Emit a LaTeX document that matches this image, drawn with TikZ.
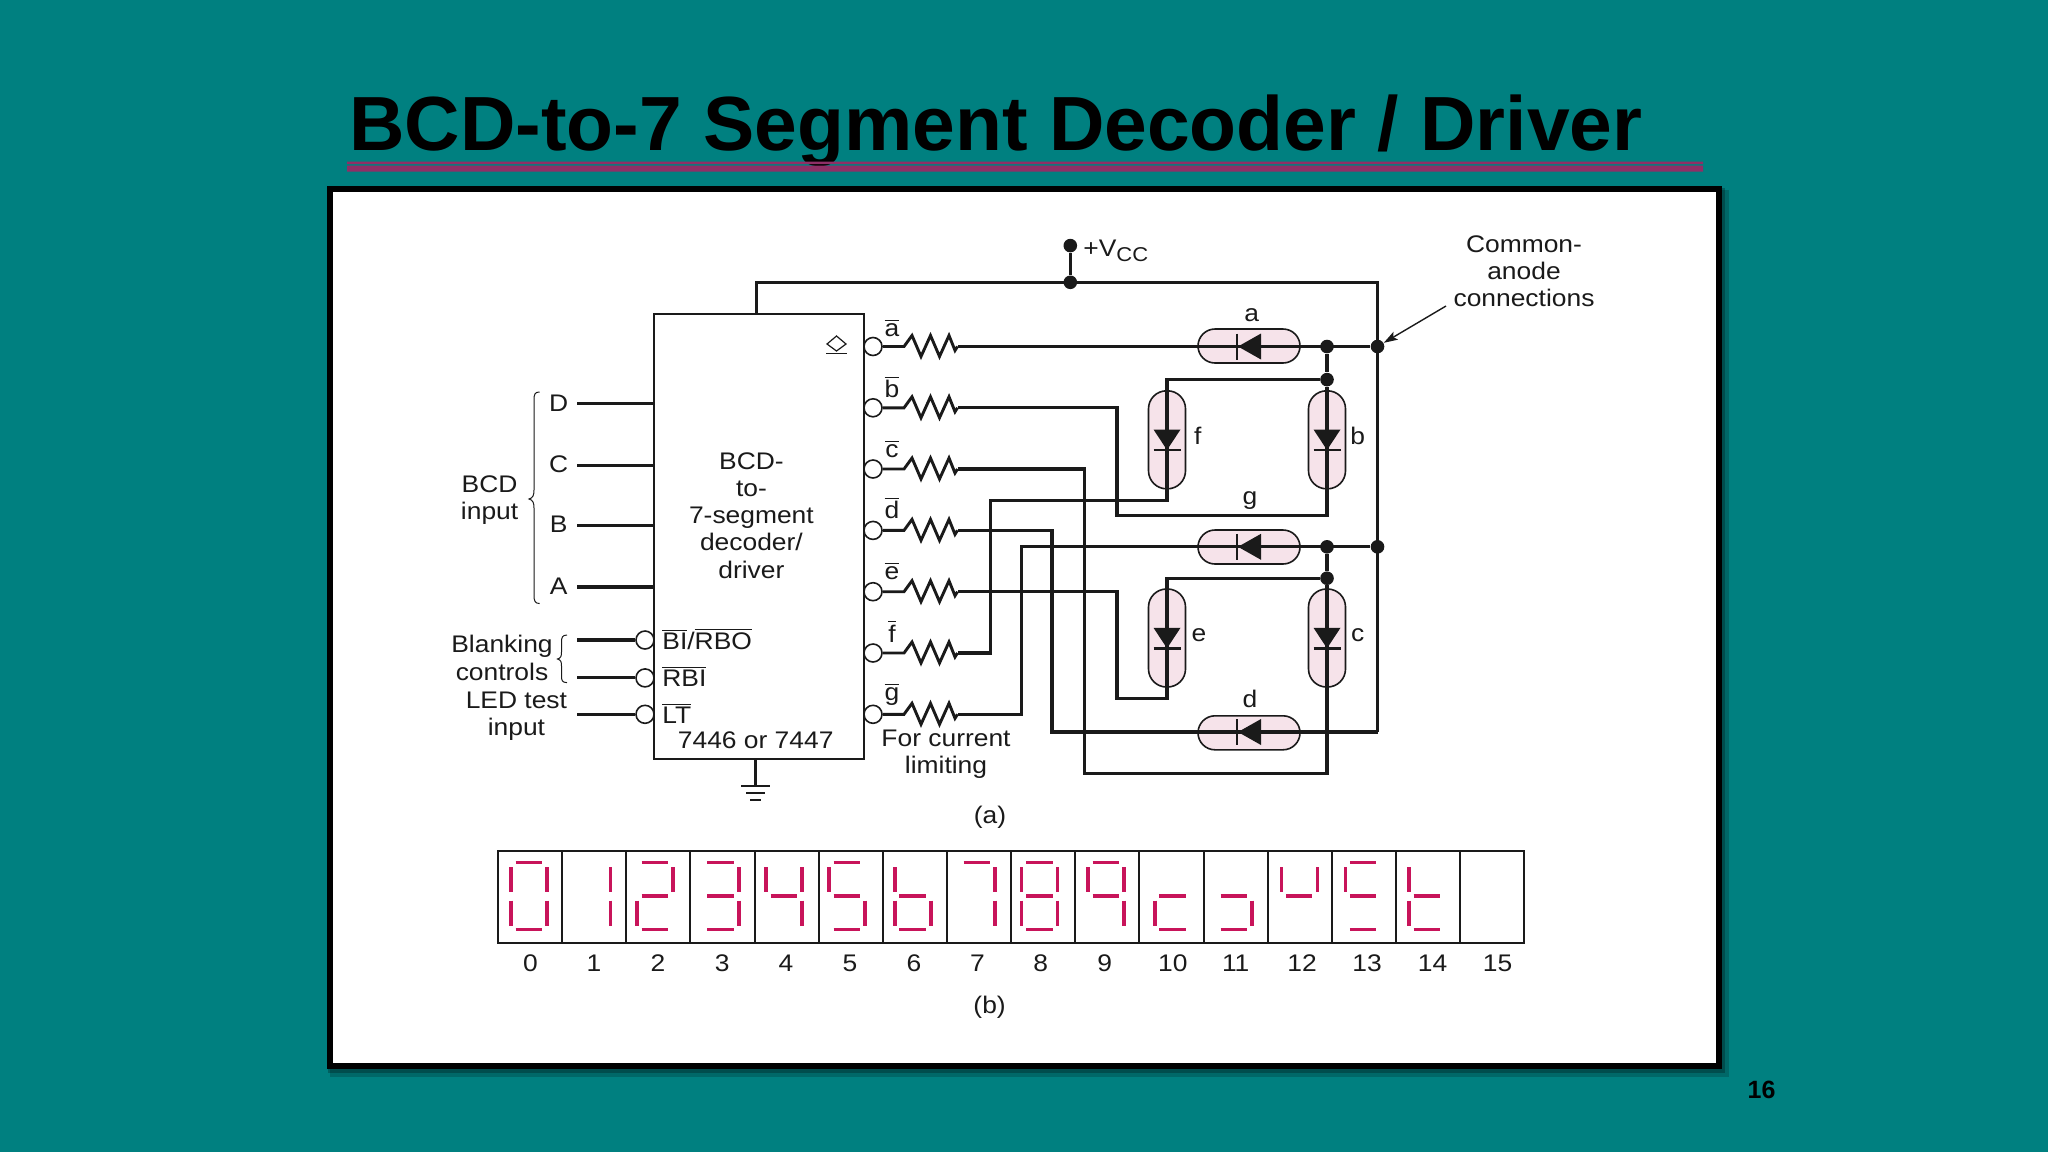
\documentclass[tikz,border=0pt]{standalone}
\usepackage{fontspec}
\setmainfont[FakeStretch=1.1]{Liberation Sans}
\newfontfamily\titlefont{Liberation Sans}
\usetikzlibrary{arrows.meta,calc}
\definecolor{teal0}{HTML}{008080}
\definecolor{rule0}{HTML}{8F2F66}
\definecolor{seg0}{HTML}{C8145A}
\definecolor{pill0}{HTML}{F6E3EA}
\definecolor{ink0}{HTML}{1A1A1A}
\newcommand{\ovl}[1]{$\overline{\mbox{#1}}$}
\tikzset{
  x=0.5pt,y=-0.5pt,
  wire/.style={draw=ink0,line width=1.55pt},
  thin0/.style={draw=ink0,line width=0.9pt},
  lab/.style={inner sep=0pt,font=\fontsize{12}{13.6}\selectfont,text=ink0,align=center},
  dotj/.style={circle,fill=ink0,draw=none,minimum size=6.8pt,inner sep=0pt},
  bub/.style={circle,fill=white,draw=ink0,line width=0.8pt,minimum size=9pt,inner sep=0pt},
  pillh/.style={draw=ink0,line width=0.8pt,fill=pill0,rounded corners=8.5pt,minimum width=51pt,minimum height=17pt,inner sep=0pt},
  pillv/.style={draw=ink0,line width=0.8pt,fill=pill0,rounded corners=9pt,minimum width=18.5pt,minimum height=49pt,inner sep=0pt},
  seg/.style={draw=seg0,line width=1.75pt},
  cell/.style={draw=ink0,line width=1pt,minimum width=32.07pt,minimum height=46pt,inner sep=0pt,fill=white},
}
\newcommand{\diodeh}[1]{\fill[ink0] ($(#1)+(-11,0)$) -- ($(#1)+(12,-13)$) -- ($(#1)+(12,13)$) -- cycle;
  \draw[ink0,line width=1.4pt] ($(#1)+(-12,-13)$) -- ($(#1)+(-12,13)$);}
\newcommand{\diodev}[1]{\fill[ink0] ($(#1)+(0,10)$) -- ($(#1)+(-13.5,-10.5)$) -- ($(#1)+(13.5,-10.5)$) -- cycle;
  \draw[ink0,line width=1.4pt] ($(#1)+(-13.5,10)$) -- ($(#1)+(13.5,10)$);}
\newcommand{\sgA}{\draw[seg] (\lx+4.5,862.7) -- (\lx+31,862.7);}
\newcommand{\sgB}{\draw[seg] (\lx+36,867.3) -- (\lx+36,892);}
\newcommand{\sgC}{\draw[seg] (\lx+36,900.7) -- (\lx+36,925.7);}
\newcommand{\sgD}{\draw[seg] (\lx+4.5,929.3) -- (\lx+31,929.3);}
\newcommand{\sgE}{\draw[seg] (\lx,900.7) -- (\lx,925.7);}
\newcommand{\sgF}{\draw[seg] (\lx,867.3) -- (\lx,892);}
\newcommand{\sgG}{\draw[seg] (\lx+4.5,896) -- (\lx+31,896);}
\begin{document}
\begin{tikzpicture}
\useasboundingbox (0,0) rectangle (2048,1152);
\fill[teal0] (0,0) rectangle (2048,1152);
% title
\node[anchor=base west,inner sep=0pt,text=black,font=\titlefont\bfseries\fontsize{38.4}{40}\selectfont] (title) at (349,150) {BCD-to-7 Segment Decoder / Driver};
\fill[rule0] (347,161.5) rectangle (1703,164) (347,165.5) rectangle (1703,171.5);
% frame
\fill[black,opacity=0.18] (330,190) rectangle (1729,1077);
\fill[black,opacity=0.25] (328,188) rectangle (1725,1073);
\draw[black,line width=3pt,fill=white] (329.7,188.7) rectangle (1718.7,1066);
% page number
\node[anchor=center,inner sep=0pt,font=\titlefont\bfseries\fontsize{12.5}{13}\selectfont,text=black] (pg) at (1761.5,1090) {16};

% IC
\node[draw=ink0,line width=1pt,fill=white,minimum width=105pt,minimum height=222.5pt,inner sep=0pt] (ic) at (758.6,536) {};
\node[lab] (ictext) at (751.4,515.5) {BCD-\\[0pt]to-\\[0pt]7-segment\\[0pt]decoder/\\[0pt]driver};
\node[lab] (icname) at (755.7,740) {7446 or 7447};
% diamond symbol
\draw[ink0,line width=0.6pt] (827,344) -- (836.5,336) -- (846,344) -- (836.5,351) -- cycle;
\draw[ink0,line width=0.7pt] (826,353.5) -- (847,353.5);

% power
\node[dotj] (vcc) at (1070.3,245.6) {};
\node[dotj] (vccj) at (1070.3,282.3) {};
\node[lab,anchor=base west] (vcclab) at (1083,256) {+V$_{\mbox{\fontsize{10}{10}\selectfont CC}}$};
\draw[wire] (vcc) -- (vccj);
\coordinate (icv) at (756.4,313.7);
\coordinate (rail) at (1377.5,732);
\draw[wire] (icv) |- (1377.5,282.3) -- (rail);
% ground
\coordinate (gnd) at (755.7,786);
\draw[wire] (755.7,758.6) -- (gnd);
\draw[thin0] (741,786) -- (770,786) (746,793) -- (765,793) (750,800) -- (761,800);

% inputs
\foreach \n/\yy in {D/403.9,C/465.2,B/525.7,A/587}{
  \coordinate (in\n) at (577,\yy);
  \draw[wire] (in\n) -- (653.6,\yy);
  \node[lab] (l\n) at (558.6,\yy-1) {\n};
}
\node[lab] (bcdin) at (489.6,500) {BCD\\[0pt]input};
\draw[ink0,line width=0.5pt] (539.6,392) .. controls (535,392) and (534,394) .. (534,400) -- (534,490) .. controls (534,495) and (533,498) .. (529,499) .. controls (533,500) and (534,503) .. (534,508) -- (534,595) .. controls (534,601) and (535,603.5) .. (539.6,603.5);
% control inputs
\foreach \n/\yy in {bi/640,rb/677.9,lt/714.3}{
  \node[bub] (b\n) at (645,\yy) {};
  \draw[wire] (577,\yy) -- (b\n);
}
\node[lab,anchor=west] (tbi) at (662,639) {\ovl{BI}/\ovl{RBO}};
\node[lab,anchor=west] (trb) at (662,676) {\ovl{RBI}};
\node[lab,anchor=west] (tlt) at (662,713) {\ovl{LT}};
\node[lab] (blank) at (502,658) {Blanking\\[0pt]controls};
\draw[ink0,line width=0.5pt] (567,635) .. controls (562,635) and (561.5,638) .. (561.5,642) -- (561.5,652) .. controls (561.5,656) and (561,658) .. (557.5,659) .. controls (561,660) and (561.5,662) .. (561.5,666) -- (561.5,676) .. controls (561.5,680) and (562,682.6) .. (567,682.6);
\node[lab] (ledt) at (516.4,716.5) {LED test\\[0pt]input};

% outputs
\foreach \n/\yy in {a/346.5,b/407.8,c/469,d/530.4,e/591.7,f/653,g/714.3}{
  \node[bub] (o\n) at (873,\yy) {};
  \coordinate (r\n) at (957.5,\yy);
  \draw[ink0,line width=1.45pt,line join=miter] (o\n) -- (904,\yy) -- (912,\yy-11) -- (921,\yy+10) -- (930.5,\yy-11) -- (939.5,\yy+10) -- (949,\yy-11) -- (955,\yy+4) -- (r\n);
}
\foreach \n/\yy in {a/329,b/390.5,c/450.5,d/511.5,e/572.5,g/693}{
  \node[lab,anchor=base] (t\n) at (892,\yy+7) {\ovl{\n}};
}
\node[lab,anchor=base] (tf) at (892,642) {\ovl{f}};
\node[lab] (curlim) at (946,754.5) {For current\\[0pt]limiting};
\node[lab] (capa) at (990,817) {(a)};

% anode junctions
\coordinate (ja) at (1377.5,346.5);
\coordinate (jg) at (1377.5,546.8);
\node[dotj] (n1) at (1327,346.5) {};
\node[dotj] (n2) at (1327,379.6) {};
\node[dotj] (n3) at (1327,546.8) {};
\node[dotj] (n4) at (1327,578.2) {};
\node[dotj] (n5) at (ja) {};
\node[dotj] (n6) at (jg) {};

\node[pillh] (ledA) at (1249,346) {};
\node[pillh] (ledG) at (1249,547) {};
\node[pillh] (ledD) at (1249,732.8) {};
\node[pillv] (ledF) at (1167,439.8) {};
\node[pillv] (ledB) at (1327,439.8) {};
\node[pillv] (ledE) at (1167,638) {};
\node[pillv] (ledC) at (1327,638) {};

\draw[wire] (ra) -- (n5);
\draw[wire] (n1) -- (n2);
\draw[wire] (n2) -- (1327,515.8) -- (1117,515.8) -- (1117,407.8) -- (rb);
\draw[wire] (n2) -- (1167,379.6) -- (1167,500.5) -- (990.3,500.5) -- (990.3,653) -- (rf);
\draw[wire] (n6) -- (1021.9,546.8) -- (1021.9,714.3) -- (rg);
\draw[wire] (rd) -- (1052,530.4) -- (1052,732) -- (rail);
\draw[wire] (rc) -- (1084.6,469) -- (1084.6,773.8) -- (1327,773.8) -- (n4);
\draw[wire] (n4) -- (n3);
\draw[wire] (n4) -- (1167,578.2) -- (1167,698.4) -- (1117,698.4) -- (1117,591.7) -- (re);

\diodeh{1249,346.5}
\diodeh{1249,546.8}
\diodeh{1249,732}
\diodev{1167,440}
\diodev{1327,440}
\diodev{1167,638.3}
\diodev{1327,638.3}

\node[lab] (la) at (1251.7,315.5) {a};
\node[lab] (lg) at (1250,501) {g};
\node[lab] (ld) at (1250,699) {d};
\node[lab] (lf) at (1197.8,436) {f};
\node[lab] (lb) at (1357.7,436) {b};
\node[lab] (le) at (1199,635) {e};
\node[lab] (lc) at (1357.7,635) {c};

\node[lab] (comm) at (1524,271) {Common-\\[0pt]anode\\[0pt]connections};
\coordinate (arrs) at (1446,306);
\draw[ink0,line width=0.7pt,-{Stealth[length=7pt,width=4.5pt,inset=1.5pt]}] (arrs) -- (n5);

% display strip
\foreach \i in {0,...,15}{
  \node[cell] (c\i) at (530+64.15*\i,896.7) {};
}
\foreach \i/\nx/\seglist in {
 0/13.2/{\sgA\sgB\sgC\sgD\sgE\sgF},
 1/12.6/{\sgB\sgC},
 2/11/{\sgA\sgB\sgG\sgE\sgD},
 3/12.6/{\sgA\sgB\sgG\sgC\sgD},
 4/11.7/{\sgF\sgG\sgB\sgC},
 5/10.4/{\sgA\sgF\sgG\sgC\sgD},
 6/12/{\sgF\sgG\sgC\sgD\sgE},
 7/12.2/{\sgA\sgB\sgC},
 8/10.6/{\sgA\sgB\sgC\sgD\sgE\sgF\sgG},
 9/12.9/{\sgA\sgB\sgF\sgG\sgC},
 10/15.4/{\sgE\sgD\sgG},
 11/12.6/{\sgG\sgC\sgD},
 12/13.6/{\sgF\sgB\sgG},
 13/13.6/{\sgA\sgF\sgG\sgD},
 14/13.2/{\sgF\sgE\sgG\sgD}}{
  \pgfmathsetmacro{\lx}{497.9+64.15*\i+\nx}
  \seglist
}
\foreach \i/\px in {0/530.4,1/594,2/658,3/722.2,4/786,5/850,6/914,7/977.5,8/1040.7,9/1104.6,10/1172.9,11/1235.7,12/1302,13/1367,14/1432.5,15/1497.5}{
  \node[lab] (num\i) at (\px,963.3) {\i};
}
\node[lab] (capb) at (989.6,1007) {(b)};
\end{tikzpicture}
\end{document}
